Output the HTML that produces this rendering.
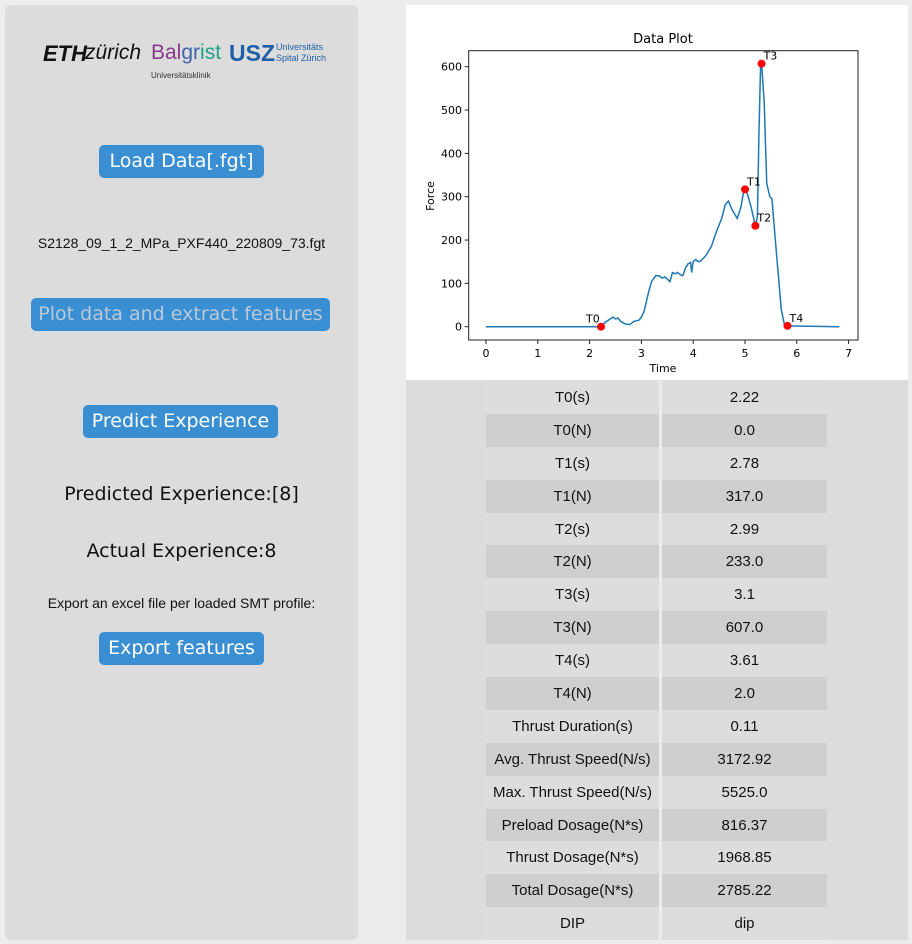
<!DOCTYPE html>
<html><head><meta charset="utf-8">
<style>
body{margin:0;width:912px;height:944px;background:#ececec;font-family:"Liberation Sans",sans-serif;position:relative;overflow:hidden}
.panel{position:absolute;left:5px;top:5px;width:353px;height:935px;background:#dcdcdc;border-radius:6px}
.btn{position:absolute;background:#3a8fd3;color:#fff;border-radius:5px;font-family:"DejaVu Sans","Liberation Sans",sans-serif;font-size:19px;text-align:center;line-height:33px;height:33px}
.txt{position:absolute;left:0;width:353px;text-align:center;color:#111}
#plotwrap{position:absolute;left:406px;top:5px;width:502px;height:375px;background:#fff}
#tblbg{position:absolute;left:406px;top:380px;width:502px;height:560px;background:#dcdcdc}
table{position:absolute;left:486px;top:381px;border-collapse:collapse;font-size:15px;color:#111}
td{height:32.9px;padding:0;text-align:center}
td.a{width:173px}td.b{width:165px;border-left:3px solid #ececec}
tr:nth-child(odd) td{background:#dddddd}
tr:nth-child(even) td{background:#cfcfcf}
</style></head><body>
<div class="panel">
 <div style="position:absolute;left:38px;top:34px;width:300px;height:50px">
  <span style="position:absolute;left:0;top:2px;font-size:22px;font-weight:bold;font-style:italic;color:#111">ETH</span>
  <span style="position:absolute;left:42px;top:2px;font-size:21px;font-style:italic;color:#111">zürich</span>
  <span style="position:absolute;left:108px;top:2px;font-size:21px;color:#8a3a8e">Bal<span style="color:#3f64a8">gr</span><span style="color:#20a28a">ist</span></span>
  <span style="position:absolute;left:108px;top:32px;font-size:8px;color:#333">Universitätsklinik</span>
  <span style="position:absolute;left:186px;top:1px;font-size:23px;font-weight:bold;color:#1f5fa8">USZ</span>
  <span style="position:absolute;left:233px;top:3px;font-size:9px;line-height:11px;color:#1f5fa8">Universitäts<br>Spital Zürich</span>
 </div>
 <div class="btn" style="left:94px;top:140px;width:165px">Load Data[.fgt]</div>
 <div class="txt" style="top:230px;font-size:14px">S2128_09_1_2_MPa_PXF440_220809_73.fgt</div>
 <div class="btn" style="left:26px;top:293px;width:299px;color:#b9c9d8">Plot data and extract features</div>
 <div class="btn" style="left:78px;top:400px;width:195px">Predict Experience</div>
 <div class="txt" style="top:478px;font-size:19px;font-family:'DejaVu Sans',sans-serif">Predicted Experience:[8]</div>
 <div class="txt" style="top:535px;font-size:19px;font-family:'DejaVu Sans',sans-serif">Actual Experience:8</div>
 <div class="txt" style="top:590px;font-size:14px">Export an excel file per loaded SMT profile:</div>
 <div class="btn" style="left:94px;top:627px;width:165px">Export features</div>
</div>
<div id="plotwrap">
<svg id="chart" width="502" height="375" font-family="DejaVu Sans, sans-serif" font-size="11"></svg>
</div>
<div id="tblbg"></div>
<table><tbody id="tb"></tbody></table>
<script>
const times=[0,2.22,2.3,2.45,2.5,2.55,2.6,2.7,2.78,2.85,2.95,3.0,3.05,3.1,3.15,3.2,3.28,3.35,3.4,3.45,3.5,3.55,3.6,3.65,3.7,3.75,3.8,3.85,3.9,3.95,3.97,4.0,4.05,4.1,4.15,4.25,4.35,4.45,4.55,4.62,4.68,4.75,4.85,4.92,4.97,5.0,5.05,5.12,5.2,5.24,5.27,5.3,5.32,5.37,5.42,5.48,5.52,5.6,5.7,5.76,5.82,6.82];
const forces=[0,0,10,22,18,20,12,6,5,12,15,22,35,60,85,105,118,117,112,115,110,104,125,122,125,120,118,135,145,148,125,150,155,150,152,165,185,220,250,282,290,270,250,275,310,317,305,275,233,255,450,600,607,520,330,300,295,180,40,5,2,0];
const markerLabels=["T0","T1","T2","T3","T4"];
const markerT=[2.22,5.0,5.2,5.32,5.82];
const markerF=[0,317,233,607,2];
const xTicks=[0,1,2,3,4,5,6,7];
const yTicks=[0,100,200,300,400,500,600];
const rowLabels=["T0(s)","T0(N)","T1(s)","T1(N)","T2(s)","T2(N)","T3(s)","T3(N)","T4(s)","T4(N)","Thrust Duration(s)","Avg. Thrust Speed(N/s)","Max. Thrust Speed(N/s)","Preload Dosage(N*s)","Thrust Dosage(N*s)","Total Dosage(N*s)","DIP"];
const rowValues=["2.22","0.0","2.78","317.0","2.99","233.0","3.1","607.0","3.61","2.0","0.11","3172.92","5525.0","816.37","1968.85","2785.22","dip"];

const NS="http://www.w3.org/2000/svg";
const svg=document.getElementById('chart');
const ox=406,oy=5;
const X=t=>486+t*51.8-ox, Y=f=>326.7-f*0.4333-oy;
function el(tag,attrs,parent){const e=document.createElementNS(NS,tag);for(const k in attrs)e.setAttribute(k,attrs[k]);(parent||svg).appendChild(e);return e;}
let t=el('text',{x:257,y:38,'text-anchor':'middle','font-size':13});t.textContent="Data Plot";

let frame=el('rect',{x:468.7-ox,y:50.7-oy,width:389.3,height:289.3,fill:'none',stroke:'#222','stroke-width':1});

xTicks.forEach(v=>{el('line',{x1:X(v),x2:X(v),y1:340-oy,y2:344-oy,stroke:'#222'});
 const tx=el('text',{x:X(v),y:357-oy,'text-anchor':'middle'});tx.textContent=v;
 });
yTicks.forEach(v=>{el('line',{x1:468.7-ox,x2:464.7-ox,y1:Y(v),y2:Y(v),stroke:'#222'});
 const tx=el('text',{x:462-ox,y:Y(v)+4,'text-anchor':'end'});tx.textContent=v;
 });
let xl=el('text',{x:257,y:372-oy,'text-anchor':'middle'});xl.textContent="Time";

let yl=el('text',{x:0,y:0,'text-anchor':'middle',transform:`translate(${434-ox},${196-oy}) rotate(-90)`});yl.textContent="Force";

let line=el('polyline',{points:times.map((v,i)=>X(v)+','+Y(forces[i])).join(' '),fill:'none',stroke:'#1f77b4','stroke-width':1.5});

markerT.forEach((v,i)=>{const c=el('circle',{cx:X(v),cy:Y(markerF[i]),r:4,fill:'red'});
 
 const lb=el('text',{x:i==0?X(v)-15:X(v)+2,y:Y(markerF[i])-4});lb.textContent=markerLabels[i];
 });

const tb=document.getElementById('tb');
rowLabels.forEach((l,i)=>{const tr=document.createElement('tr');
 
 
 tr.innerHTML='<td class="a">'+l+'</td><td class="b">'+rowValues[i]+'</td>';tb.appendChild(tr);});
</script>
</body></html>
